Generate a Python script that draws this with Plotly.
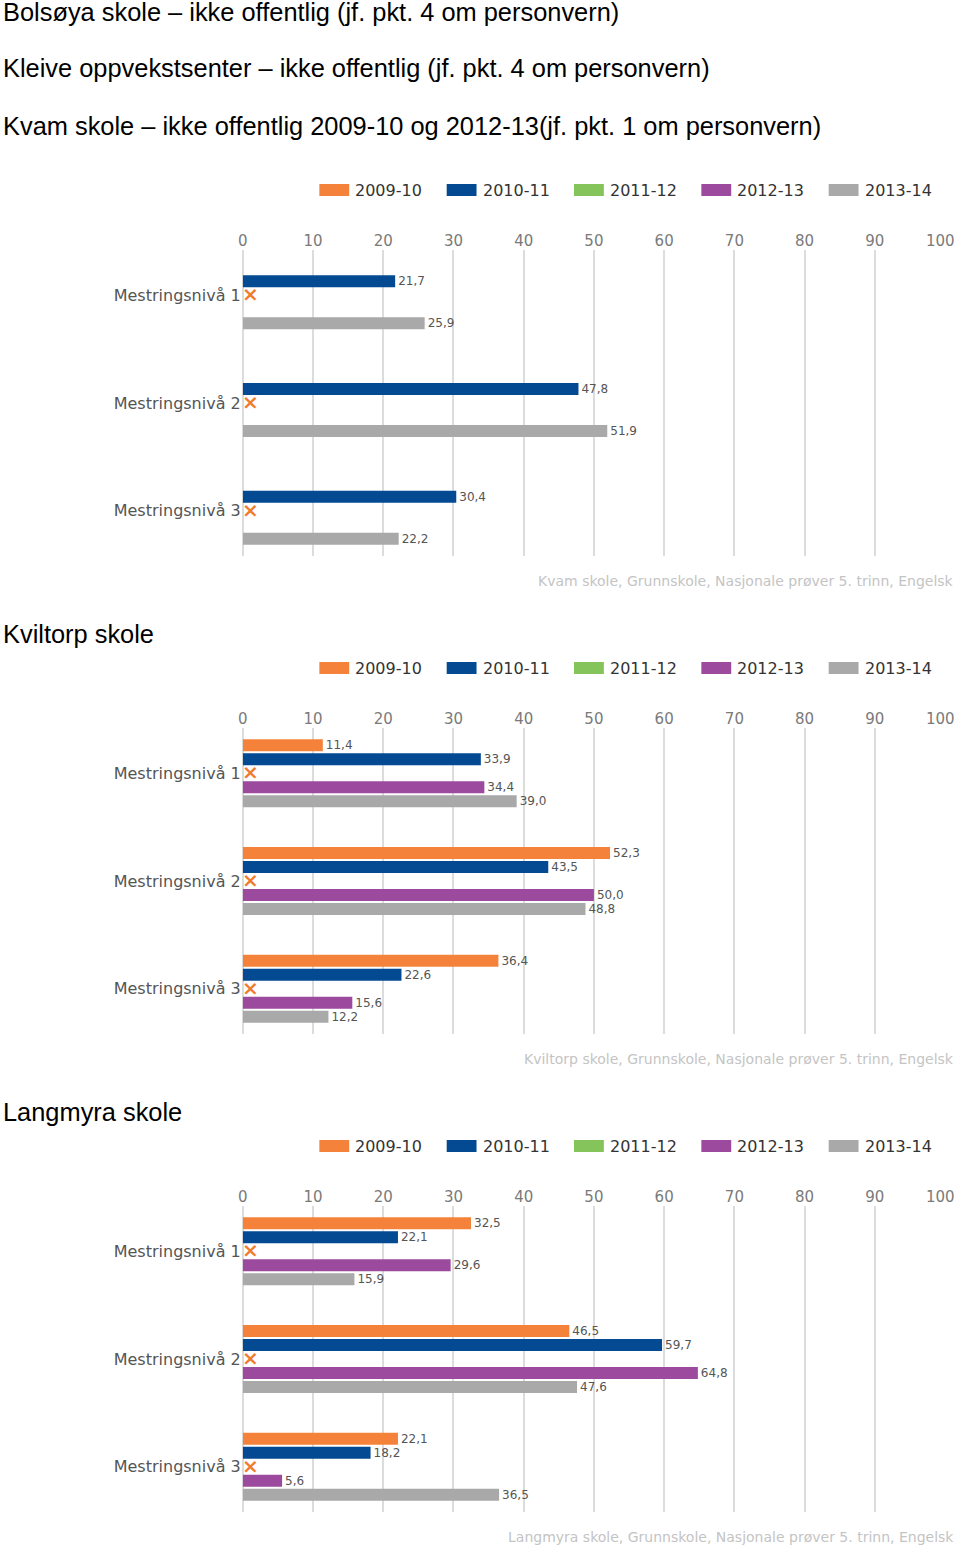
import plotly.graph_objects as go

# ---------------- data ----------------
categories = ["Mestringsnivå 1", "Mestringsnivå 2", "Mestringsnivå 3"]
years = ["2009-10", "2010-11", "2011-12", "2012-13", "2013-14"]

kvam_2009_10 = [None, None, None]
kvam_2010_11 = [21.7, 47.8, 30.4]
kvam_2011_12 = [None, None, None]
kvam_2012_13 = [None, None, None]
kvam_2013_14 = [25.9, 51.9, 22.2]

kviltorp_2009_10 = [11.4, 52.3, 36.4]
kviltorp_2010_11 = [33.9, 43.5, 22.6]
kviltorp_2011_12 = [None, None, None]
kviltorp_2012_13 = [34.4, 50.0, 15.6]
kviltorp_2013_14 = [39.0, 48.8, 12.2]

langmyra_2009_10 = [32.5, 46.5, 22.1]
langmyra_2010_11 = [22.1, 59.7, 18.2]
langmyra_2011_12 = [None, None, None]
langmyra_2012_13 = [29.6, 64.8, 5.6]
langmyra_2013_14 = [15.9, 47.6, 36.5]

x_ticks = [0, 10, 20, 30, 40, 50, 60, 70, 80, 90, 100]

headings = [
    "Bolsøya skole – ikke offentlig (jf. pkt. 4 om personvern)",
    "Kleive oppvekstsenter – ikke offentlig (jf. pkt. 4 om personvern)",
    "Kvam skole – ikke offentlig 2009-10 og 2012-13(jf. pkt. 1 om personvern)",
    "Kviltorp skole",
    "Langmyra skole",
]
sources = [
    "Kvam skole, Grunnskole, Nasjonale prøver 5. trinn, Engelsk",
    "Kviltorp skole, Grunnskole, Nasjonale prøver 5. trinn, Engelsk",
    "Langmyra skole, Grunnskole, Nasjonale prøver 5. trinn, Engelsk",
]

charts = [
    [kvam_2009_10, kvam_2010_11, kvam_2011_12, kvam_2012_13, kvam_2013_14],
    [kviltorp_2009_10, kviltorp_2010_11, kviltorp_2011_12, kviltorp_2012_13, kviltorp_2013_14],
    [langmyra_2009_10, langmyra_2010_11, langmyra_2011_12, langmyra_2012_13, langmyra_2013_14],
]

# ---------------- style ----------------
W, H = 960, 1547
colors = ["#f5823a", "#034a93", "#84c45a", "#9b4a9d", "#a9a9a9"]
grid_color = "#dcdcdc"
tick_font = dict(family="DejaVu Sans", size=15, color="#7a7a7a")
cat_font = dict(family="DejaVu Sans", size=16, color="#555555")
label_font = dict(family="DejaVu Sans", size=12, color="#555555")
head_font = dict(family="Liberation Sans, Arial", size=25.4, color="#000000")
src_font = dict(family="DejaVu Sans", size=14, color="#c4c4c4")
legend_font = dict(family="DejaVu Sans", size=16, color="#333333")

chart_offset = 478          # vertical distance between charts (px)
grid_top0, grid_bot0 = 250, 556
x_left, x_right = 239, 945


def py(pix):
    """pixel y (from top) to paper fraction"""
    return 1 - pix / H


def px(pix):
    return pix / W


def fmt(v):
    return "" if v is None else f"{v:.1f}".replace(".", ",")


fig = go.Figure()
annotations = []
shapes = []

for ci, series in enumerate(charts):
    sfx = "" if ci == 0 else str(ci + 1)
    xa, ya = "x" + sfx, "y" + sfx
    for yi, (name, vals) in enumerate(zip(years, series)):
        fig.add_trace(go.Bar(
            name=name, orientation="h", y=categories, x=vals,
            xaxis=xa, yaxis=ya,
            marker=dict(color=colors[yi], line=dict(width=0)),
            text=[fmt(v) for v in vals], textposition="outside",
            textfont=label_font, constraintext="none", cliponaxis=False,
            showlegend=False, hoverinfo="x+name",
        ))
    off = ci * chart_offset
    top, bot = grid_top0 + off, grid_bot0 + off
    # last tick label (at the right page edge) is drawn as an annotation
    tick_text = [str(t) for t in x_ticks[:-1]] + [""]
    fig.layout["xaxis" + sfx] = dict(
        domain=[px(x_left), px(x_right)], range=[0, 100], side="top",
        anchor=ya, tickvals=x_ticks, ticktext=tick_text,
        showgrid=True, gridcolor=grid_color, gridwidth=1.5,
        zeroline=True, zerolinecolor=grid_color, zerolinewidth=1.5,
        showline=False, ticks="", tickfont=tick_font, fixedrange=True,
    )
    fig.layout["yaxis" + sfx] = dict(
        domain=[py(bot), py(top)], range=[2.42, -0.42], type="category",
        anchor=xa, showgrid=False, zeroline=False, showline=False,
        ticks="", tickfont=cat_font, ticklabelstandoff=1, fixedrange=True,
    )
    annotations.append(dict(
        x=x_ticks[-1], y=py(241 + off), xref=xa, yref="paper",
        text=str(x_ticks[-1]), showarrow=False, xanchor="right",
        yanchor="middle", xshift=12, font=tick_font,
    ))
    # missing-value markers (2011-12)
    for cat in categories:
        annotations.append(dict(
            x=0, y=cat, xref=xa, yref=ya, text="<b>×</b>", showarrow=False,
            xanchor="left", yanchor="middle", xshift=-3, yshift=1,
            font=dict(family="DejaVu Sans", size=20, color="#f07c30"),
        ))
    # legend (manual, wide swatches)
    leg_y = 190 + off
    for yi, name in enumerate(years):
        lx = 316 + yi * 128
        shapes.append(dict(
            type="rect", xref="paper", yref="paper",
            x0=px(lx), x1=px(lx + 30), y0=py(leg_y + 6), y1=py(leg_y - 6),
            fillcolor=colors[yi], line=dict(width=0),
        ))
        annotations.append(dict(
            x=px(lx + 34), y=py(leg_y), xref="paper", yref="paper",
            text=name, showarrow=False, xanchor="left", yanchor="middle",
            font=legend_font,
        ))
    # source line
    annotations.append(dict(
        x=px(956), y=py(581 + off), xref="paper", yref="paper",
        text=sources[ci], showarrow=False, xanchor="right", yanchor="middle",
        font=src_font,
    ))

# headings
head_y = [12, 68, 126, 634, 1112]
for txt, hy in zip(headings, head_y):
    annotations.append(dict(
        x=0, y=py(hy), xref="paper", yref="paper", text=txt,
        showarrow=False, xanchor="left", yanchor="middle", font=head_font,
        xshift=-4,
    ))

fig.update_layout(
    width=W, height=H, margin=dict(l=0, r=0, t=0, b=0),
    paper_bgcolor="white", plot_bgcolor="white",
    barmode="group", bargap=0.35, bargroupgap=0.14,
    showlegend=False, annotations=annotations, shapes=shapes,
)

fig.write_html(
    "out.html",
    config={"displayModeBar": False},
    post_script="document.body.style.margin='0';document.body.style.padding='0';",
)
